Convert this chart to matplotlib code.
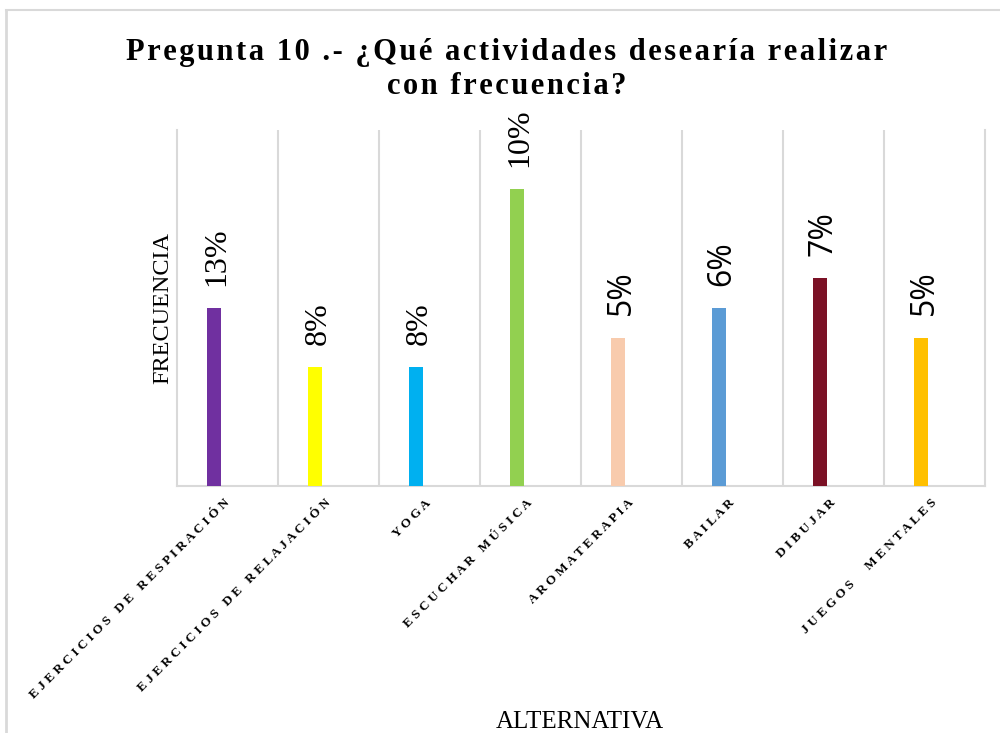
import matplotlib.pyplot as plt
import matplotlib.lines as mlines

# datos del grafico
alternativas = ['EJERCICIOS DE RESPIRACIÓN', 'EJERCICIOS DE RELAJACIÓN', 'YOGA',
                'ESCUCHAR MÚSICA', 'AROMATERAPIA', 'BAILAR', 'DIBUJAR', 'JUEGOS  MENTALES']
frecuencia = [6, 4, 4, 10, 5, 6, 7, 5]
etiquetas = ['13%', '8%', '8%', '10%', '5%', '6%', '7%', '5%']
colores = ['#7030A0', '#FFFF00', '#00B0F0', '#92D050', '#F8CBAD', '#5B9BD5', '#7B1125', '#FFC000']
titulo = 'Pregunta 10 .- ¿Qué actividades desearía realizar\ncon frecuencia?'

def espaciar(txt):
    # separa las letras como en el original
    return '   '.join(' '.join(w) for w in txt.split(' '))

def espaciar_titulo(txt):
    return '\n'.join('\u200a'.join(linea) for linea in txt.split('\n'))

fig = plt.figure(figsize=(10, 7.33), dpi=100)
ax = fig.add_axes([0.177, 0.337, 0.808, 0.486])

x = list(range(len(alternativas)))
xb = [i - 0.13 for i in x]
ax.bar(xb, frecuencia, width=0.14, color=colores, zorder=3)

for i in x:
    fuente = 'Liberation Serif' if i < 4 else 'Open Sans'
    ax.annotate(etiquetas[i], (xb[i], frecuencia[i]), xytext=(2, 16), textcoords='offset points',
                rotation=90, ha='center', va='bottom', fontsize=23, family=fuente)

ax.set_xlim(-0.5, len(alternativas) - 0.5)
ax.set_ylim(0, 12)
ax.set_yticks([])
ax.set_xticks(x)
ax.set_xticklabels([espaciar(a) for a in alternativas], rotation=45, ha='right', va='center',
                   rotation_mode='anchor', fontsize=9.5, family='Liberation Serif', fontweight='bold')
ax.tick_params(axis='x', length=0, pad=11)
for b in [i + 0.5 for i in x[:-1]]:
    ax.axvline(b, color='#D9D9D9', lw=1.5, zorder=1)
for s in ['top']:
    ax.spines[s].set_visible(False)
for s in ['left', 'right', 'bottom']:
    ax.spines[s].set_color('#D9D9D9')
    ax.spines[s].set_linewidth(1.5)

ax.set_ylabel('FRECUENCIA', fontsize=17.5, family='Liberation Serif', labelpad=3)
fig.text(0.58, 0.0, 'ALTERNATIVA', fontsize=18, family='Liberation Serif', ha='center', va='bottom')

fig.text(0.507, 0.905, espaciar_titulo(titulo),
         ha='center', va='center', fontsize=22, fontweight='bold', family='Liberation Serif',
         linespacing=1.2)

# borde del area del grafico
fig.add_artist(mlines.Line2D([0.006, 0.006], [0, 0.986], color='#D9D9D9', lw=2))
fig.add_artist(mlines.Line2D([0.006, 1], [0.986, 0.986], color='#D9D9D9', lw=1.5))

fig.savefig('out.png', dpi=100)
